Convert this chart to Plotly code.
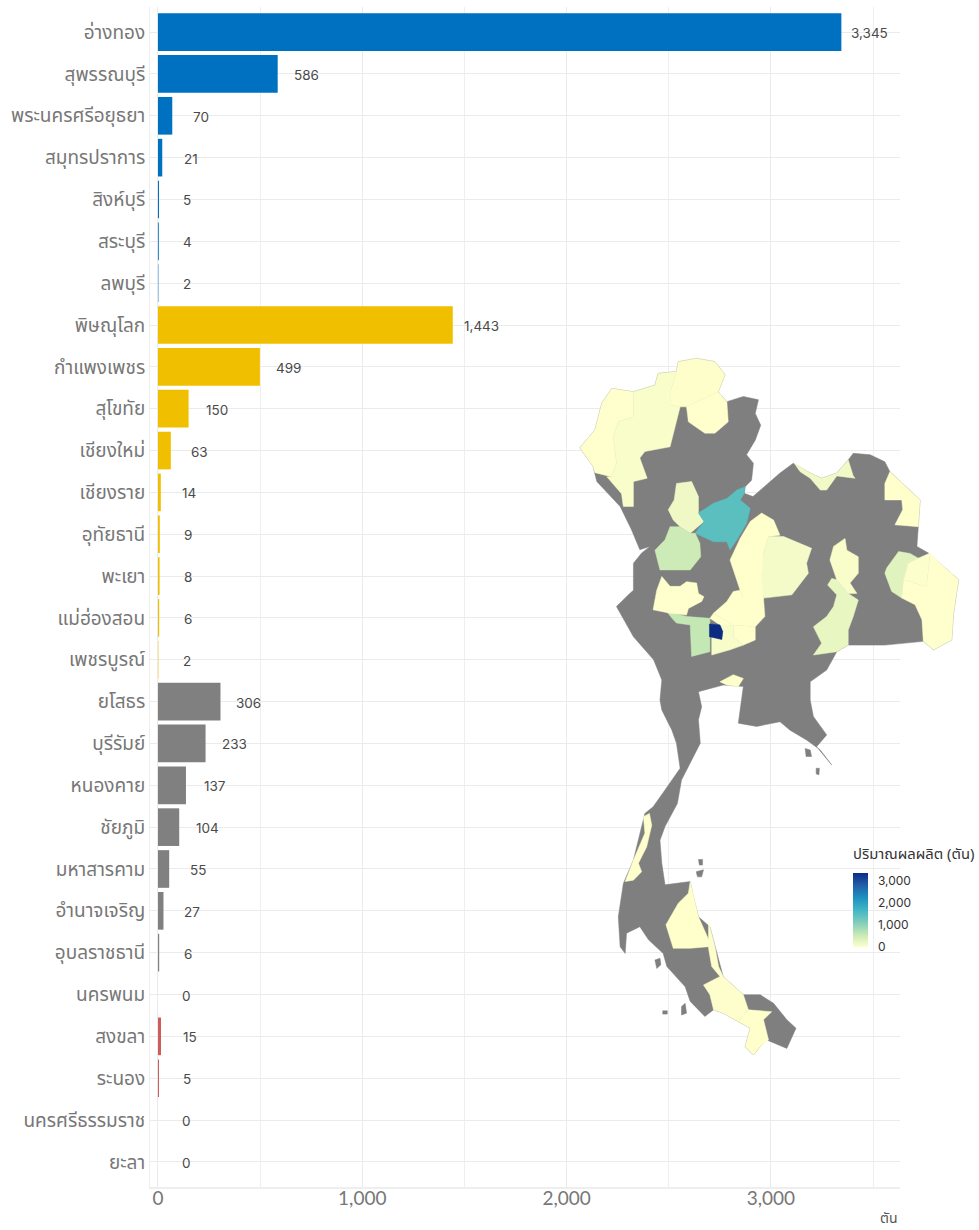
import plotly.graph_objects as go
from plotly.colors import sample_colorscale

# ---------- bar data ----------
categories = ["อ่างทอง","สุพรรณบุรี","พระนครศรีอยุธยา","สมุทรปราการ","สิงห์บุรี","สระบุรี","ลพบุรี",
              "พิษณุโลก","กำแพงเพชร","สุโขทัย","เชียงใหม่","เชียงราย","อุทัยธานี","พะเยา","แม่ฮ่องสอน","เพชรบูรณ์",
              "ยโสธร","บุรีรัมย์","หนองคาย","ชัยภูมิ","มหาสารคาม","อำนาจเจริญ","อุบลราชธานี","นครพนม",
              "สงขลา","ระนอง","นครศรีธรรมราช","ยะลา"]
values = [3345,586,70,21,5,4,2, 1443,499,150,63,14,9,8,6,2, 306,233,137,104,55,27,6,0, 15,5,0,0]
regions = ["c"]*7 + ["n"]*9 + ["e"]*8 + ["s"]*4
tick_vals = [0,1000,2000,3000]
tick_text = ["0","1,000","2,000","3,000"]
region_colors = {"c":"rgba(0,112,192,0.999)","n":"rgba(240,192,0,0.999)","e":"rgba(128,128,128,0.999)","s":"rgba(205,92,92,0.999)"}
ylgnbu7 = ["#ffffcc","#c7e9b4","#7fcdbb","#41b6c4","#1d91c0","#225ea8","#0c2c84"]
colorscale = [[i/6,c] for i,c in enumerate(ylgnbu7)]

# ---------- map data (lon, lat) ----------
thailand = [(97.39,18.53),(97.72,18.91),(97.87,19.48),(98.09,19.79),(98.56,19.72),(99.03,19.86),(99.10,20.11),(99.50,20.15),(99.54,20.36),(99.94,20.43),(100.34,20.36),(100.56,20.08),(100.41,19.72),(100.60,19.51),(100.96,19.62),(101.29,19.55),(101.22,19.26),(101.34,19.01),(101.22,18.69),(101.03,18.38),(101.18,18.20),(101.14,17.84),(101.00,17.70),(100.98,17.56),(101.17,17.49),(101.47,17.74),(101.76,17.99),(102.05,18.20),(102.42,17.99),(102.67,17.88),(103.00,17.99),(103.25,18.27),(103.36,18.41),(103.73,18.38),(104.05,18.23),(104.16,18.02),(104.46,17.74),(104.82,17.42),(104.78,16.85),(104.75,16.43),(105.00,16.29),(105.26,16.07),(105.66,15.72),(105.55,15.01),(105.51,14.44),(105.11,14.23),(104.89,14.41),(104.05,14.33),(103.25,14.33),(103.00,14.19),(102.78,13.80),(102.42,13.55),
(102.42,13.16),(102.49,12.81),(102.78,12.42),(102.56,12.17),(102.89,11.78),(102.64,12.10),(102.34,12.31),(101.98,12.52),(101.76,12.70),(101.25,12.60),(100.85,12.67),(100.92,13.16),(100.96,13.45),(100.52,13.48),(99.98,13.34),(100.05,13.02),
(99.98,12.74),(100.02,12.24),(99.80,11.82),(99.61,11.46),(99.52,10.96),(99.25,10.47),(99.14,10.18),(99.18,9.69),(99.25,9.23),(99.80,9.30),(99.87,8.98),(99.98,8.55),(100.23,8.34),(100.38,7.77),(100.52,7.28),(100.96,6.89),(101.33,6.89),(101.62,6.71),(101.91,6.36),(102.11,6.18),(101.91,5.75),(101.47,5.93),(101.33,5.79),(101.18,5.61),(101.00,5.79),(101.11,6.18),(100.85,6.32),(100.52,6.50),(100.31,6.57),(100.12,6.43),(99.80,6.75),(99.69,7.06),(99.29,7.49),(99.21,7.77),(98.89,8.06),(98.70,8.34),(98.41,8.20),(98.38,7.77),(98.27,7.91),(98.23,8.55),(98.34,9.26),(98.56,9.76),(98.81,10.75),(98.99,10.89),(99.25,11.25),(99.58,11.71),(99.50,12.24),(99.40,12.52),(99.18,12.95),(99.14,13.16),
(99.18,13.59),(99.00,14.02),(98.56,14.51),(98.19,15.15),(98.45,15.40),(98.56,15.50),(98.56,16.07),(98.74,16.29),(98.92,16.43),(98.70,16.36),(98.52,16.78),(98.27,17.28),(97.76,17.81),(97.68,18.13)]
islands = [
    [(99.03,7.63),(99.14,7.67),(99.16,7.53),(99.07,7.45)],
    [(99.61,6.64),(99.69,6.71),(99.72,6.50),(99.61,6.46)],
    [(99.93,9.51),(100.09,9.55),(100.05,9.40),(99.96,9.40)],
    [(99.98,9.77),(100.07,9.77),(100.07,9.65),(100.00,9.65)],
    [(102.55,11.71),(102.62,11.71),(102.61,11.57),(102.55,11.59)],
    [(102.31,12.13),(102.42,12.10),(102.45,11.96),(102.33,11.96)],
    [(99.20,6.55),(99.30,6.55),(99.30,6.48),(99.20,6.48)],
]
mae_hong_son = [(97.39,18.53),(97.72,18.91),(97.87,19.48),(98.09,19.79),(98.56,19.72),(98.56,19.19),(98.23,19.08),(98.12,18.77),(98.19,18.20),(98.08,17.91),(97.72,18.00),(97.68,18.13)]
chiang_mai = [(98.56,19.72),(99.03,19.86),(99.10,20.11),(99.50,20.15),(99.36,19.69),(99.36,19.44),(99.58,19.40),(99.36,18.55),(98.81,18.45),(98.70,18.31),(98.86,17.88),(98.56,17.81),(98.56,17.28),(98.34,17.28),(98.30,17.55),(98.12,17.74),(97.98,17.91),(98.08,17.91),(98.19,18.20),(98.12,18.77),(98.23,19.08),(98.56,19.19)]
chiang_rai = [(99.50,20.15),(99.54,20.36),(99.94,20.43),(100.34,20.36),(100.56,20.08),(100.41,19.72),(99.72,19.40),(99.58,19.40),(99.36,19.44),(99.36,19.69)]
phayao = [(100.41,19.72),(100.60,19.51),(100.63,19.08),(100.34,18.84),(100.12,18.84),(99.76,19.08),(99.72,19.40)]
sukhothai = [(99.50,17.77),(99.83,17.81),(99.98,17.49),(99.98,17.14),(100.10,16.96),(99.80,16.71),(99.58,16.85),(99.43,16.99),(99.32,17.21),(99.45,17.42)]
phitsanulok = [(101.00,17.70),(100.98,17.56),(100.89,17.42),(101.11,17.24),(101.03,16.92),(100.82,16.57),(100.67,16.36),(100.60,16.53),(100.31,16.53),(99.91,16.71),(100.10,16.96),(99.98,17.14),(100.31,17.35),(100.60,17.45),(100.82,17.63)]
kamphaeng_phet = [(99.58,16.85),(99.80,16.71),(99.91,16.71),(100.01,16.50),(100.03,16.21),(99.80,15.93),(99.36,15.93),(99.14,15.93),(99.03,16.35),(99.25,16.57),(99.36,16.85)]
suphan_buri = [(99.29,15.04),(99.72,14.94),(100.23,14.90),(100.23,14.19),(99.83,14.09),(99.80,14.76),(99.50,14.80),(99.43,14.87)]
uthai_thani = [(99.18,15.79),(99.36,15.58),(99.58,15.58),(99.72,15.68),(99.94,15.65),(99.98,15.43),(100.10,15.36),(100.05,15.26),(99.76,15.11),(99.72,14.97),(99.36,15.01),(98.99,15.08),(99.07,15.50)]
phetchabun = [(101.36,17.14),(101.62,16.99),(101.76,16.67),(101.51,16.64),(101.40,16.28),(101.40,15.33),(100.96,15.33),(100.89,15.50),(100.67,16.14),(100.89,16.60),(101.11,16.96)]
chaiyaphum = [(101.51,16.64),(101.84,16.64),(102.45,16.39),(102.34,16.07),(102.38,15.86),(102.02,15.40),(101.40,15.33),(101.36,15.79),(101.40,16.28)]
lop_buri = [(100.89,15.50),(100.96,15.33),(101.40,15.33),(101.43,14.94),(101.22,14.72),(100.74,14.76),(100.31,15.01),(100.60,15.26),(100.74,15.47)]
saraburi = [(100.74,14.76),(101.22,14.72),(101.22,14.44),(100.96,14.33),(100.74,14.51)]
sing_buri = [(100.31,15.01),(100.74,14.76),(100.45,14.76),(100.23,14.90)]
ayutthaya = [(100.45,14.76),(100.74,14.76),(100.74,14.51),(100.96,14.33),(100.67,14.23),(100.27,14.12),(100.27,14.51),(100.49,14.45),(100.51,14.62)]
ang_thong = [(100.22,14.78),(100.45,14.76),(100.51,14.62),(100.49,14.45),(100.22,14.51)]
buriram = [(102.80,15.61),(102.89,15.75),(103.00,15.72),(103.25,15.43),(103.47,15.29),(103.36,14.94),(103.25,14.65),(103.25,14.33),(103.00,14.19),(102.49,14.12),(102.67,14.37),(102.49,14.72),(102.78,14.94),(102.93,15.15),(103.00,15.40)]
maha_sarakham = [(103.18,16.60),(103.22,16.35),(103.47,16.21),(103.47,15.86),(103.29,15.65),(103.44,15.43),(103.25,15.43),(103.00,15.72),(102.85,16.14),(102.93,16.43)]
yasothon = [(104.09,15.97),(104.35,16.32),(104.60,16.28),(104.78,16.18),(104.56,16.07),(104.46,15.72),(104.42,15.33),(104.20,15.47),(104.05,15.86)]
amnat_charoen = [(104.56,16.07),(104.78,16.18),(105.04,16.29),(104.96,15.57),(104.46,15.72)]
ubon = [(105.04,16.29),(105.26,16.07),(105.66,15.72),(105.55,15.01),(105.51,14.44),(105.11,14.23),(104.89,14.41),(104.86,14.87),(104.71,15.19),(104.42,15.33),(104.46,15.72),(104.96,15.57)]
nong_khai = [(102.07,18.20),(102.42,17.99),(102.67,17.88),(103.00,17.99),(103.25,18.27),(103.36,17.93),(103.40,17.88),(103.00,17.93),(102.78,17.63),(102.64,17.63),(102.42,17.88),(102.20,18.02)]
nakhon_phanom = [(104.16,18.02),(104.46,17.74),(104.82,17.42),(104.78,16.85),(104.27,16.89),(104.44,17.21),(104.42,17.42),(104.05,17.42),(104.05,17.77)]
samut_prakan = [(100.45,13.55),(100.74,13.70),(100.96,13.62),(100.85,13.45),(100.60,13.48)]
ranong = [(98.91,10.75),(98.96,10.50),(98.85,10.04),(98.67,9.69),(98.74,9.51),(98.56,9.33),(98.38,9.30),(98.56,9.76),(98.81,10.33),(98.78,10.68)]
nakhon_si = [(99.80,9.30),(99.87,8.98),(99.98,8.55),(100.27,7.92),(99.80,7.88),(99.43,7.88),(99.32,8.20),(99.27,8.38),(99.54,8.84),(99.76,9.05)]
songkhla = [(100.20,8.45),(100.34,7.92),(100.42,7.49),(100.52,7.28),(100.96,6.89),(101.07,6.57),(100.85,6.32),(100.52,6.50),(100.31,6.57),(100.23,6.89),(100.09,7.10),(100.45,7.28),(100.27,7.49),(100.20,7.88)]
yala = [(101.07,6.57),(101.58,6.53),(101.40,6.36),(101.51,5.93),(101.33,5.79),(101.18,5.61),(101.00,5.79),(101.11,6.18),(100.85,6.32)]
map_shapes = [("แม่ฮ่องสอน",mae_hong_son),("เชียงใหม่",chiang_mai),("เชียงราย",chiang_rai),("พะเยา",phayao),
    ("สุโขทัย",sukhothai),("พิษณุโลก",phitsanulok),("กำแพงเพชร",kamphaeng_phet),("สุพรรณบุรี",suphan_buri),
    ("อุทัยธานี",uthai_thani),("เพชรบูรณ์",phetchabun),("ชัยภูมิ",chaiyaphum),("ลพบุรี",lop_buri),("สระบุรี",saraburi),
    ("สิงห์บุรี",sing_buri),("พระนครศรีอยุธยา",ayutthaya),("อ่างทอง",ang_thong),("บุรีรัมย์",buriram),("มหาสารคาม",maha_sarakham),
    ("ยโสธร",yasothon),("อำนาจเจริญ",amnat_charoen),("อุบลราชธานี",ubon),("หนองคาย",nong_khai),("นครพนม",nakhon_phanom),
    ("สมุทรปราการ",samut_prakan),("ระนอง",ranong),("นครศรีธรรมราช",nakhon_si),("สงขลา",songkhla),("ยะลา",yala)]

W,H = 979,1230
THAI = "Noto Sans Thai, Noto Sans, Lato, sans-serif"
GRID = "#ebebeb"
vmax = max(values)
value_of = dict(zip(categories,values))
fig = go.Figure()

fig.add_trace(go.Bar(y=categories,x=values,orientation="h",width=0.9,
    marker=dict(color=[region_colors[r] for r in regions],line_width=0),showlegend=False,hoverinfo="x+y"))

def poly(pts,color,name):
    return go.Scatter(x=[p[0] for p in pts]+[pts[0][0]],y=[p[1] for p in pts]+[pts[0][1]],
        mode="lines",fill="toself",fillcolor=color,line=dict(color=color,width=0.5),
        xaxis="x2",yaxis="y2",showlegend=False,name=name,hoverinfo="name")

fig.add_trace(poly(thailand,"#7f7f7f","ไทย"))
for isl in islands:
    fig.add_trace(poly(isl,"#7f7f7f","ไทย"))
for name,pts in map_shapes:
    col = sample_colorscale(colorscale,[value_of[name]/vmax])[0]
    fig.add_trace(poly(pts,col,name))

# colour bar carrier
fig.add_trace(go.Scatter(x=[100.3],y=[14.6],mode="markers",xaxis="x2",yaxis="y2",showlegend=False,hoverinfo="skip",
    marker=dict(size=1,opacity=0,color=[vmax],coloraxis="coloraxis")))

value_labels = [dict(x=v,y=c,xref="x",yref="y",text=f"{v:,}",showarrow=False,xanchor="center",yanchor="middle",
                     xshift=28.5,yshift=-1,font=dict(family="Inter, sans-serif",size=13.5,color="#4a4a4a"))
                for c,v in zip(categories,values)]

fig.update_layout(
    width=W,height=H,margin=dict(l=0,r=0,t=0,b=0),paper_bgcolor="white",plot_bgcolor="rgba(0,0,0,0)",
    xaxis=dict(domain=[150/W,900/W],range=[-39,3632],tickvals=tick_vals,ticktext=tick_text,
        minor=dict(tickvals=[500,1500,2500,3500],showgrid=True,gridcolor="#efefef",gridwidth=1,ticks=""),
        gridcolor=GRID,gridwidth=1,zeroline=False,showline=True,linecolor="#eeeeee",linewidth=2,
        ticks="",ticklabelstandoff=-7,tickfont=dict(family="Lato, sans-serif",size=19,color="#777777")),
    yaxis=dict(domain=[1-1187/H,1-7/H],range=[27.6,-0.6],type="category",categoryorder="array",categoryarray=categories,
        gridcolor=GRID,gridwidth=1.3,zeroline=False,showline=True,linecolor="#eeeeee",linewidth=1,ticks="",
        tickfont=dict(family=THAI,size=19,color="#777777")),
    xaxis2=dict(domain=[560/W,970/W],range=[96.957,105.909],visible=False,fixedrange=True,anchor="y2"),
    yaxis2=dict(domain=[1-1060/H,1-350/H],range=[5.503,20.609],visible=False,fixedrange=True,anchor="x2"),
    coloraxis=dict(colorscale=colorscale,cmin=0,cmax=vmax,colorbar=dict(
        x=853/W,xanchor="left",xpad=0,y=1-947/H,yanchor="bottom",ypad=0,lenmode="pixels",len=102,
        thicknessmode="pixels",thickness=15,outlinewidth=0,ticks="outside",ticklen=8,tickcolor="rgba(0,0,0,0)",
        tickvals=tick_vals,tickformat=",",
        tickfont=dict(family="Inter, sans-serif",size=12,color="#333333"),
        title=dict(text="ปริมาณผลผลิต (ตัน)",side="top",font=dict(family=THAI,size=14.8,color="#333333")))),
    annotations=value_labels+[dict(text="ตัน",x=900/W,y=1-1218/H,xref="paper",yref="paper",xanchor="right",yanchor="middle",
        showarrow=False,font=dict(family=THAI,size=14,color="#555555"))],
    bargap=0.1,
)
fig.write_html("out.html",post_script="document.body.style.margin='0';",config=dict(displayModeBar=False))
